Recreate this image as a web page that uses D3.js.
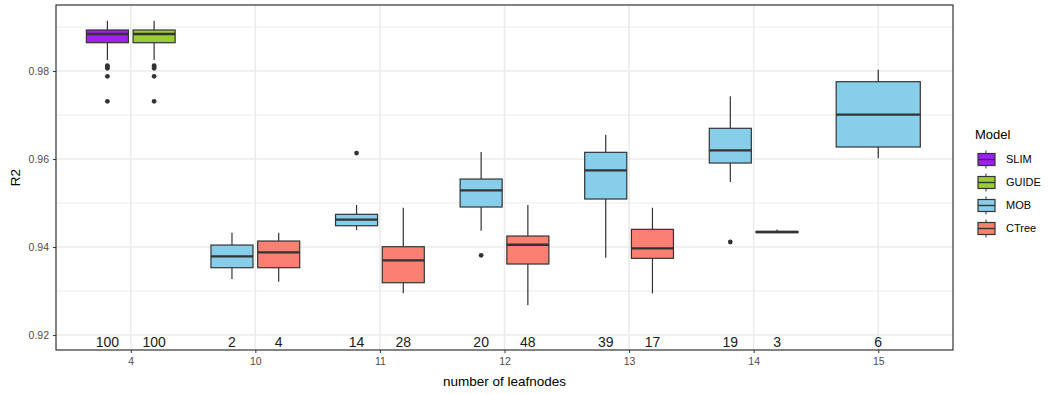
<!DOCTYPE html>
<html>
<head>
<meta charset="utf-8">
<script src="https://cdn.jsdelivr.net/npm/d3@7"></script>
<style>
  body { margin: 0; background: #fff; }
  text { font-family: "Liberation Sans", Arial, sans-serif; }
</style>
</head>
<body>
<div id="chart"></div>
<script>
// data
var leafnodes = ["4", "10", "11", "12", "13", "14", "15"];
var models = ["SLIM", "GUIDE", "MOB", "CTree"];
var modelColors = ["#a020f0", "#9acd32", "#87ceeb", "#fa8072"];
var yTicks = [0.92, 0.94, 0.96, 0.98];
var yMinor = [0.93, 0.95, 0.97, 0.99];

// box stats per series: [leafnodes, lower whisker, q1, median, q3, upper whisker]
var slimBoxes = [["4", 0.9825, 0.98643, 0.98841, 0.98932, 0.99143]];
var guideBoxes = [["4", 0.9825, 0.98643, 0.98841, 0.98932, 0.99143]];
var mobBoxes = [
  ["10", 0.93273, 0.93530, 0.93789, 0.94045, 0.94325],
  ["11", 0.94386, 0.94484, 0.94621, 0.94743, 0.94955],
  ["12", 0.94370, 0.94909, 0.95289, 0.95545, 0.96159],
  ["13", 0.93757, 0.95091, 0.95743, 0.96152, 0.96552],
  ["14", 0.95477, 0.95909, 0.96197, 0.96698, 0.97425],
  ["15", 0.96016, 0.96273, 0.97007, 0.97757, 0.98030]
];
var ctreeBoxes = [
  ["10", 0.93211, 0.93530, 0.93880, 0.94136, 0.94325],
  ["11", 0.92948, 0.93189, 0.93698, 0.94007, 0.94893],
  ["12", 0.92675, 0.93614, 0.94052, 0.94250, 0.94955],
  ["13", 0.92948, 0.93743, 0.93970, 0.94402, 0.94893],
  ["14", 0.94328, 0.94328, 0.94341, 0.94354, 0.94400]
];

// outliers: [leafnodes, value]
var slimOutliers = [["4", 0.98120], ["4", 0.98098], ["4", 0.98061], ["4", 0.97880], ["4", 0.97311]];
var guideOutliers = [["4", 0.98120], ["4", 0.98098], ["4", 0.98061], ["4", 0.97880], ["4", 0.97311]];
var mobOutliers = [["11", 0.96136], ["12", 0.93811], ["14", 0.94114]];
var ctreeOutliers = [];

// number of runs per box
var slimCounts = [["4", 100]];
var guideCounts = [["4", 100]];
var mobCounts = [["10", 2], ["11", 14], ["12", 20], ["13", 39], ["14", 19], ["15", 6]];
var ctreeCounts = [["10", 4], ["11", 28], ["12", 48], ["13", 17], ["14", 3]];

var series = [
  {model: "SLIM", boxes: slimBoxes, outliers: slimOutliers, counts: slimCounts},
  {model: "GUIDE", boxes: guideBoxes, outliers: guideOutliers, counts: guideCounts},
  {model: "MOB", boxes: mobBoxes, outliers: mobOutliers, counts: mobCounts},
  {model: "CTree", boxes: ctreeBoxes, outliers: ctreeOutliers, counts: ctreeCounts}
];

// set the dimensions and margins of the graph
var W = 1048, H = 394;
var margin = {top: 5, right: 95, bottom: 44, left: 56},
    width = W - margin.left - margin.right,
    height = H - margin.top - margin.bottom;

var svg = d3.select("#chart")
  .append("svg")
    .attr("width", W)
    .attr("height", H)
  .append("g")
    .attr("transform", "translate(" + margin.left + "," + margin.top + ")");

var x = d3.scalePoint().domain(leafnodes).range([0, width]).padding(0.6);
var y = d3.scaleLinear().domain([0.9166, 0.995]).range([height, 0]);
var color = d3.scaleOrdinal().domain(models).range(modelColors);
var step = x.step();

// which models share each leafnode slot (for dodging)
var groups = {};
leafnodes.forEach(function(c) { groups[c] = []; });
series.forEach(function(s) {
  s.boxes.forEach(function(b) { groups[b[0]].push(s.model); });
});

function slot(cat, model) {
  var g = groups[cat];
  var n = g.length, i = g.indexOf(model);
  var w = 0.75 * step / n;
  var cx = x(cat) - 0.75 * step / 2 + w * (i + 0.5);
  return {cx: cx, bw: w * 0.9};
}

// grid
svg.selectAll(".minor")
  .data(yMinor).enter().append("line")
  .attr("x1", 0).attr("x2", width)
  .attr("y1", function(d) { return y(d); }).attr("y2", function(d) { return y(d); })
  .attr("stroke", "#ebebeb").attr("stroke-width", 1);
svg.selectAll(".major")
  .data(yTicks).enter().append("line")
  .attr("x1", 0).attr("x2", width)
  .attr("y1", function(d) { return y(d); }).attr("y2", function(d) { return y(d); })
  .attr("stroke", "#ebebeb").attr("stroke-width", 1.6);
svg.selectAll(".vmajor")
  .data(leafnodes).enter().append("line")
  .attr("x1", function(d) { return x(d); }).attr("x2", function(d) { return x(d); })
  .attr("y1", 0).attr("y2", height)
  .attr("stroke", "#ebebeb").attr("stroke-width", 1.6);

// boxes
series.forEach(function(s) {
  var g = svg.append("g");
  s.boxes.forEach(function(b) {
    var p = slot(b[0], s.model);
    g.append("line")
      .attr("x1", p.cx).attr("x2", p.cx)
      .attr("y1", y(b[5])).attr("y2", y(b[4]))
      .attr("stroke", "#333").attr("stroke-width", 1.2);
    g.append("line")
      .attr("x1", p.cx).attr("x2", p.cx)
      .attr("y1", y(b[2])).attr("y2", y(b[1]))
      .attr("stroke", "#333").attr("stroke-width", 1.2);
    g.append("rect")
      .attr("x", p.cx - p.bw / 2).attr("width", p.bw)
      .attr("y", y(b[4])).attr("height", Math.max(0.5, y(b[2]) - y(b[4])))
      .attr("fill", color(s.model))
      .attr("stroke", "#333").attr("stroke-width", 1.2);
    g.append("line")
      .attr("x1", p.cx - p.bw / 2).attr("x2", p.cx + p.bw / 2)
      .attr("y1", y(b[3])).attr("y2", y(b[3]))
      .attr("stroke", "#333").attr("stroke-width", 2.3);
  });
  s.outliers.forEach(function(o) {
    var p = slot(o[0], s.model);
    g.append("circle")
      .attr("cx", p.cx).attr("cy", y(o[1])).attr("r", 2.4)
      .attr("fill", "#333");
  });
  s.counts.forEach(function(c) {
    var p = slot(c[0], s.model);
    g.append("text")
      .attr("x", p.cx).attr("y", y(0.9185))
      .attr("dy", "0.35em")
      .attr("text-anchor", "middle")
      .style("font-size", "14px")
      .attr("fill", "#1a1a1a")
      .text(c[1]);
  });
});

// panel border
svg.append("rect")
  .attr("width", width).attr("height", height)
  .attr("fill", "none").attr("stroke", "#333").attr("stroke-width", 1.2);

// axes
var xAxis = svg.append("g")
  .attr("transform", "translate(0," + height + ")")
  .call(d3.axisBottom(x).tickSize(3).tickPadding(5));
var yAxis = svg.append("g")
  .call(d3.axisLeft(y).tickValues(yTicks).tickSize(3).tickPadding(4).tickFormat(d3.format(".2f")));
[xAxis, yAxis].forEach(function(a) {
  a.select(".domain").remove();
  a.selectAll("line").attr("stroke", "#333");
  a.selectAll("text").attr("fill", "#4d4d4d").style("font-size", "10.5px")
    .style("font-family", "'Liberation Sans', Arial, sans-serif");
});

// axis titles
svg.append("text")
  .attr("x", width / 2).attr("y", height + 36)
  .attr("text-anchor", "middle")
  .style("font-size", "13.5px").attr("fill", "#000")
  .text("number of leafnodes");
svg.append("text")
  .attr("transform", "translate(" + (-36) + "," + (height / 2) + ") rotate(-90)")
  .attr("text-anchor", "middle")
  .style("font-size", "13.5px").attr("fill", "#000")
  .text("R2");

// legend
var legend = svg.append("g").attr("transform", "translate(" + (width + 22) + ",0)");
legend.append("text")
  .attr("x", 0).attr("y", 129).attr("dy", "0.35em")
  .style("font-size", "13px").attr("fill", "#000")
  .text("Model");
models.forEach(function(m, i) {
  var cy = 154.5 + i * 23;
  var k = legend.append("g");
  k.append("line").attr("x1", 11).attr("x2", 11).attr("y1", cy - 9).attr("y2", cy + 9)
    .attr("stroke", "#333").attr("stroke-width", 1);
  k.append("rect").attr("x", 3).attr("y", cy - 6).attr("width", 17).attr("height", 12)
    .attr("fill", color(m)).attr("stroke", "#333").attr("stroke-width", 1.2);
  k.append("line").attr("x1", 3).attr("x2", 20).attr("y1", cy).attr("y2", cy)
    .attr("stroke", "#333").attr("stroke-width", 1.4);
  legend.append("text")
    .attr("x", 31).attr("y", cy).attr("dy", "0.35em")
    .style("font-size", "11px").attr("fill", "#000")
    .text(m);
});
</script>
</body>
</html>
